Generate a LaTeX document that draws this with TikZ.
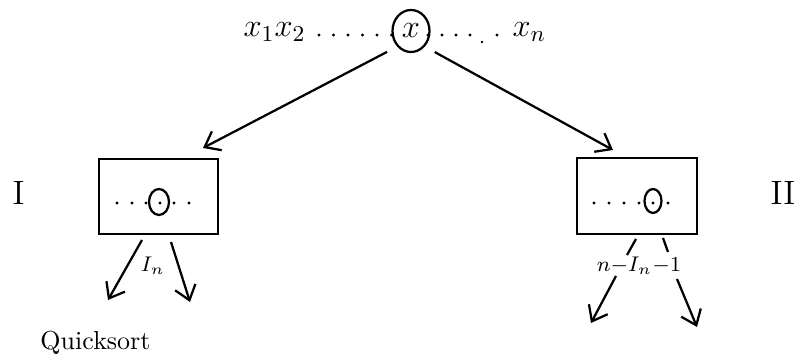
\RequirePackage{fix-cm}
\documentclass[tikz,border=0pt]{standalone}
\usetikzlibrary{arrows.meta,shapes.geometric}
\begin{document}
\begin{tikzpicture}[x=0.4pt,y=-0.4pt,
  arr/.style={line width=0.9pt,-{Straight Barb[length=5.5pt,width=8.5pt,line width=0.9pt]}},
  ln/.style={line width=0.9pt},
  bx/.style={draw,line width=0.9pt,rectangle,inner sep=0pt},
  txt/.style={inner sep=0pt},
  big/.style={txt,font=\fontsize{13}{15}\selectfont},
  roman/.style={txt,font=\fontsize{13.5}{16}\selectfont},
  small/.style={txt,font=\fontsize{8.5}{10}\selectfont},
  mid/.style={txt,font=\fontsize{10.4}{12}\selectfont}]
\useasboundingbox (0,0) rectangle (795,357);
% top row
\node[big,anchor=base west] (x12) at (243,37) {$x_1x_2$};
\node[big,ellipse,draw,line width=0.9pt,minimum width=14.8pt,minimum height=16.8pt] (cx) at (411,31) {$x$};
\node[big,anchor=base west] (xn) at (512,37) {$x_n$};
\foreach \p in {319,333.5,348,362.5,377,391.5,428,442,456,470,497}
  \fill (\p,35) circle (1.7);
\fill (482,42) circle (1.4);
% boxes
\node[bx,minimum width=47.6pt,minimum height=30pt] (L) at (158.5,196.5) {};
\node[bx,minimum width=48pt,minimum height=30.4pt] (R) at (637,196) {};
\foreach \p in {117,132,146,160,174,189}
  \fill (\p,203) circle (1.7);
\draw[ln] (159,202) ellipse [x radius=10, y radius=13];
\foreach \p in {594,609,624,639,653,668}
  \fill (\p,203) circle (1.7);
\draw[ln] (653,201) ellipse [x radius=8.5, y radius=12];
% side labels
\node[roman,anchor=base] (I) at (18.5,205) {I};
\node[roman,anchor=base] (II) at (783,205) {II};
% top arrows
\coordinate (Ltip) at (203,148);
\coordinate (Rtip) at (613,150);
\draw[arr,shorten <=4.5pt] (cx.south west) -- (Ltip);
\draw[arr,shorten <=4.5pt] (cx.south east) -- (Rtip);
% left lower arrows
\coordinate (l1s) at (142,240); \coordinate (l1e) at (108,300);
\coordinate (l2s) at (171,242); \coordinate (l2e) at (190,302);
\draw[arr] (l1s) -- (l1e);
\draw[arr] (l2s) -- (l2e);
\node[small] (In) at (153,266) {$I_n$};
\node[mid,anchor=base west] (qs) at (40,350) {Quicksort};
% right lower arrows
\coordinate (r1a) at (636,239); \coordinate (r1b) at (627,255);
\coordinate (r1s) at (616,276); \coordinate (r1e) at (591,323);
\coordinate (r2a) at (663,238); \coordinate (r2b) at (668,252);
\coordinate (r2s) at (677,279); \coordinate (r2e) at (697,327);
\draw[ln] (r1a) -- (r1b);
\draw[arr] (r1s) -- (r1e);
\draw[ln] (r2a) -- (r2b);
\draw[arr] (r2s) -- (r2e);
\node[small] (nIn) at (639,266) {$n{-}I_n{-}1$};
\end{tikzpicture}
\end{document}
